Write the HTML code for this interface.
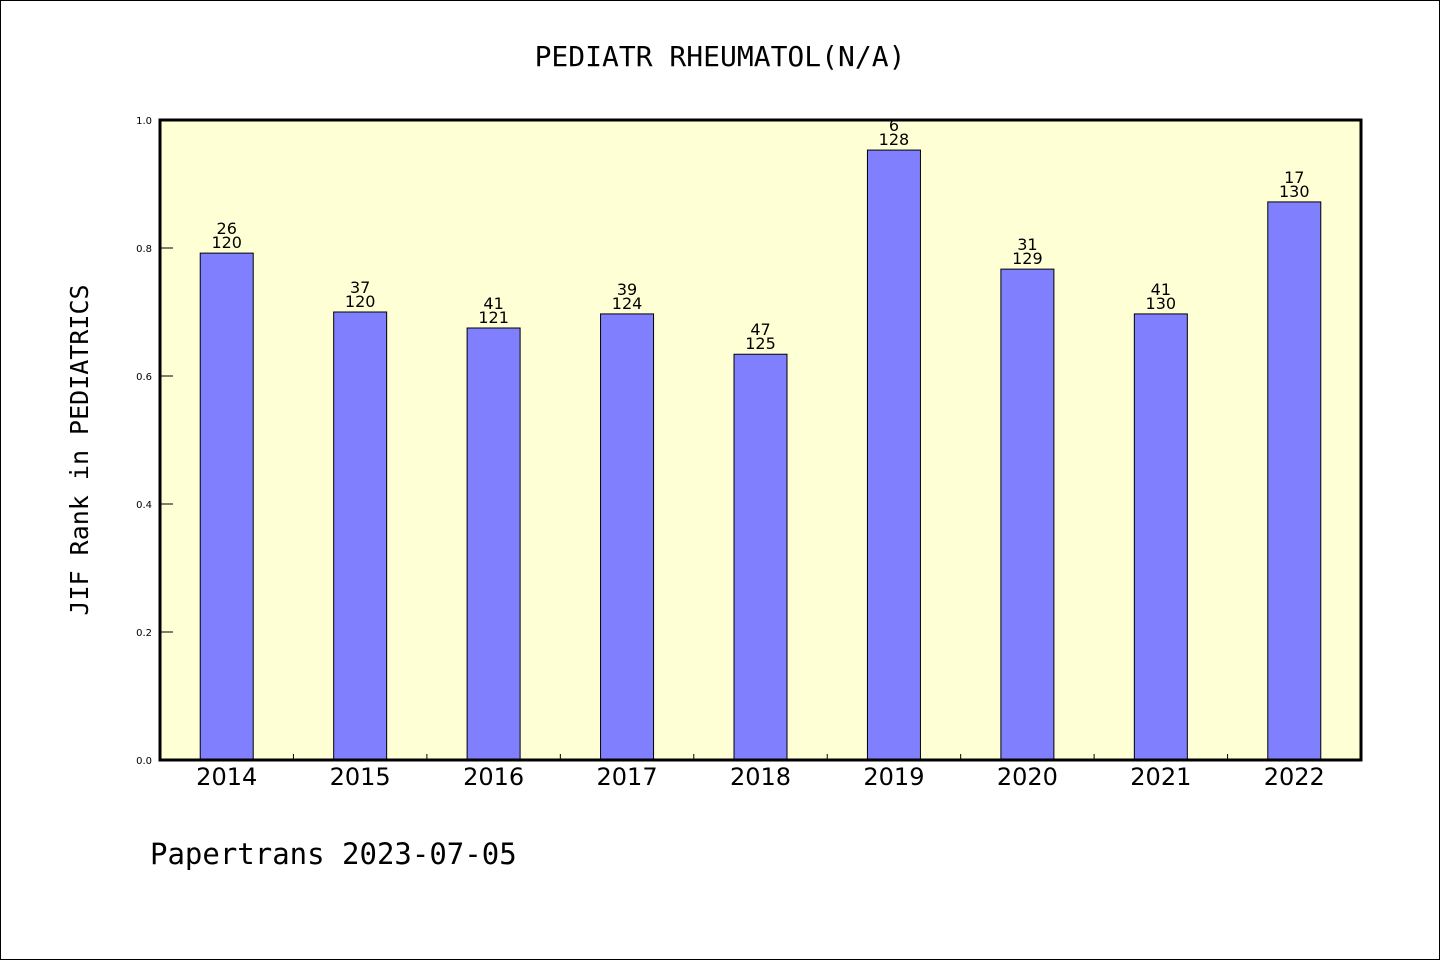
<!DOCTYPE html>
<html><head><meta charset="utf-8"><style>
body{margin:0;background:#fff}
svg{display:block}
text{font-family:"DejaVu Sans","Liberation Sans",sans-serif}
</style></head><body>
<svg id="chart" width="1440" height="960" xmlns="http://www.w3.org/2000/svg">
<rect x="0.5" y="0.5" width="1439" height="959" fill="#fff" stroke="#000" stroke-width="1"/>
<text x="720" y="66" font-size="28" text-anchor="middle" style="font-family:'DejaVu Sans Mono','Liberation Mono',monospace">PEDIATR RHEUMATOL(N/A)</text>
<rect x="160" y="120" width="1201" height="640" fill="#ffffd5"/>
<g id="bars"></g>
<g id="ticks"></g>
<rect x="160" y="120" width="1201" height="640" fill="none" stroke="#000" stroke-width="3"/>
<text transform="translate(88,450) rotate(-90)" font-size="25" text-anchor="middle" style="font-family:'DejaVu Sans Mono','Liberation Mono',monospace">JIF Rank in PEDIATRICS</text>
<text x="150" y="864" font-size="29" style="font-family:'DejaVu Sans Mono','Liberation Mono',monospace">Papertrans 2023-07-05</text>
</svg>
<script>
const years=["2014","2015","2016","2017","2018","2019","2020","2021","2022"];
const ranks=[26,37,41,39,47,6,31,41,17];
const totals=[120,120,121,124,125,128,129,130,130];
const values=[0.792,0.700,0.675,0.697,0.634,0.953,0.767,0.697,0.872];
const yTicks=[0,0.2,0.4,0.6,0.8,1.0];
const X0=160,W=1201,Y0=760,H=640;
const band=W/years.length;
const xc=i=>X0+band*(i+0.5);
const ys=v=>Y0-v*H;
const NS="http://www.w3.org/2000/svg";
const bars=document.getElementById('bars'),ticks=document.getElementById('ticks');
function mk(tag,attrs,parent){const e=document.createElementNS(NS,tag);for(const k in attrs)e.setAttribute(k,attrs[k]);parent.appendChild(e);return e;}
years.forEach((y,i)=>{
  const bw=53,top=ys(values[i]);
  const r=mk('rect',{x:xc(i)-bw/2,y:top,width:bw,height:Y0-top,fill:'#8080ff',stroke:'#000','stroke-width':1},bars);
  
  
  const t1=mk('text',{x:xc(i),y:top-19,'font-size':16,'text-anchor':'middle'},bars);t1.textContent=ranks[i];
  
  
  const t2=mk('text',{x:xc(i),y:top-5,'font-size':16,'text-anchor':'middle'},bars);t2.textContent=totals[i];
  
  
  const xl=mk('text',{x:xc(i),y:785,'font-size':24,'text-anchor':'middle'},ticks);xl.textContent=y;
  
  
  if(i>0){const l=mk('line',{x1:X0+band*i,x2:X0+band*i,y1:Y0,y2:Y0-6,stroke:'#000','stroke-width':1},ticks);
  
  }
});
yTicks.forEach(v=>{
  const l=mk('line',{x1:X0,x2:X0+13,y1:ys(v),y2:ys(v),stroke:'#000','stroke-width':1},ticks);
  
  
  const t=mk('text',{x:152,y:ys(v)+4,'font-size':10,'text-anchor':'end'},ticks);t.textContent=v.toFixed(1);
  
  
});
</script>
</body></html>
